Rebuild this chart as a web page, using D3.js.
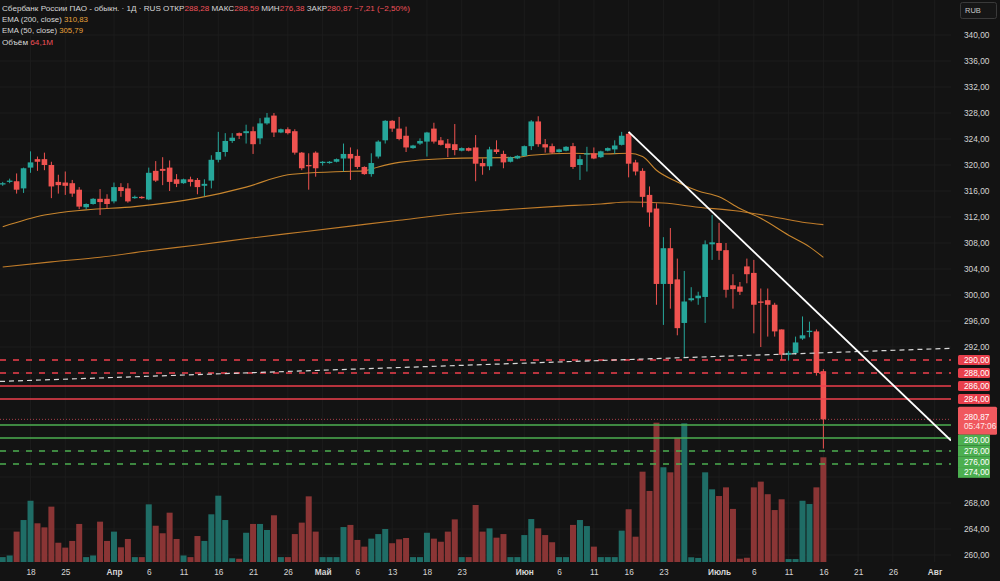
<!DOCTYPE html>
<html><head><meta charset="utf-8">
<script src="https://cdn.jsdelivr.net/npm/d3@7"></script>
<style>
html,body{margin:0;padding:0;background:#131313;}
svg{display:block;font-family:"Liberation Sans",Arial,sans-serif;}
</style></head><body>
<svg id="c" width="1000" height="581"></svg>
<script>
// ---------- DATA ----------
const opens=[317.0,317.4,317.5,316.4,319.6,320.9,320.9,320.0,317.4,317.3,317.2,316.2,313.5,314.0,314.8,314.8,314.4,316.6,316.4,314.9,315.1,314.7,319.1,319.4,319.6,317.8,317.2,317.8,317.7,316.8,317.6,320.8,322.0,323.7,324.9,324.9,325.2,324.1,326.4,327.6,325.0,325.5,325.2,321.9,320.0,321.9,320.3,320.3,320.5,321.0,321.7,321.4,319.7,318.6,321.3,323.8,326.8,325.6,324.5,322.6,323.3,323.6,325.6,323.8,323.3,323.2,322.2,322.6,322.7,320.3,319.8,322.4,321.7,320.5,321.0,321.4,322.9,326.7,323.2,322.9,322.0,322.2,322.9,320.0,321.6,321.8,321.2,322.2,322.4,323.1,324.8,320.4,319.1,315.4,313.3,301.7,307.2,302.4,295.7,299.2,299.5,299.7,307.8,308.0,306.9,301.5,301.3,304.4,303.4,299.0,299.2,298.5,294.7,290.8,291.1,293.3,294.3,294.4,288.28];
const highs=[317.4,317.9,318.7,319.6,322.1,321.3,321.9,320.5,318.5,319.0,317.7,316.6,314.1,314.9,316.3,315.5,317.3,317.2,317.2,315.3,315.2,319.6,320.6,321.2,320.7,318.6,317.9,318.2,318.0,317.8,321.5,325.1,324.9,324.9,325.0,326.2,325.9,327.2,328.0,328.0,325.6,325.8,325.5,322.0,321.8,322.1,320.6,320.6,321.0,323.3,322.7,322.4,319.8,321.8,323.8,326.9,326.9,327.4,325.9,323.1,324.1,325.1,326.5,324.3,324.0,326.3,322.7,322.7,324.6,321.0,322.8,323.8,322.2,321.3,321.5,323.0,326.9,327.5,324.0,323.3,322.5,322.9,323.4,321.5,322.8,322.7,322.2,322.7,323.8,325.1,325.1,320.8,319.5,316.7,314.1,308.9,310.3,305.6,303.7,301.2,300.5,308.4,312.3,311.1,308.0,303.2,302.0,305.6,305.4,301.0,301.0,298.8,294.7,291.4,293.6,296.7,295.9,294.7,288.59];
const lows=[316.8,317.2,315.6,315.7,318.8,319.1,319.2,314.9,315.6,315.4,315.1,313.2,313.2,313.9,312.3,313.3,314.1,315.1,314.2,314.8,314.8,314.6,317.4,316.9,316.0,316.6,317.1,316.7,315.5,315.2,316.4,320.4,321.3,323.4,324.0,323.3,321.7,323.2,326.2,324.3,324.9,324.7,321.6,319.2,316.2,318.2,319.9,320.2,320.4,319.0,317.7,319.4,318.5,318.2,321.0,323.3,325.1,323.8,322.0,322.5,323.1,321.3,323.3,323.0,321.2,321.5,322.1,322.1,317.5,318.5,319.2,321.7,319.5,320.4,320.9,321.3,322.3,322.8,321.9,321.7,321.9,322.1,319.4,317.7,319.0,320.9,321.1,322.1,321.7,323.0,318.1,318.4,313.5,310.5,298.5,295.4,297.9,293.8,290.3,299.0,298.5,295.7,305.4,305.4,299.6,297.9,300.0,301.8,294.1,292.0,293.6,293.6,290.0,289.9,290.8,293.1,293.5,287.6,276.38];
const closes=[317.2,317.6,316.2,319.5,320.4,320.5,320.0,316.7,316.9,316.8,315.6,313.6,314.0,314.8,314.3,314.0,316.6,316.0,314.4,315.1,314.9,318.8,317.6,319.1,317.4,317.1,317.8,317.4,316.6,317.1,320.8,322.0,323.7,324.2,324.5,325.2,323.2,326.4,327.3,325.0,325.5,324.9,321.9,319.5,319.8,319.5,320.5,320.5,320.9,321.7,321.0,319.7,318.6,320.3,323.6,326.8,325.6,324.0,322.7,323.0,323.7,325.0,323.6,323.1,322.6,322.3,322.6,322.2,320.2,319.8,322.4,322.0,320.4,321.2,321.4,322.9,326.7,323.2,322.7,321.9,322.4,322.8,319.7,320.9,321.8,321.0,322.1,322.6,323.0,324.5,320.2,319.0,315.1,312.7,301.7,307.2,301.7,294.9,299.0,299.5,299.9,307.8,308.1,306.8,300.8,300.9,300.5,303.2,298.5,298.8,298.5,294.4,290.8,291.1,292.7,293.8,294.5,288.0,280.87];
const volumes=[3,4,18.6,25.7,37.5,23.7,21.2,33.9,11.8,8.8,12.9,23.3,3,4,24.7,12.9,18.6,9.0,14.1,3,3,35.3,22.2,17.6,30.2,14.1,4,3,15.9,12.9,29.2,40.6,25.7,2.3,2,17.9,23.3,23.3,19.6,28.6,3,3,17.1,24.1,40.2,18.6,3,3,3,21.4,22.7,13.5,9.4,14.3,17.1,20.2,11.5,13.9,14.7,3,3,17.9,14.3,12.4,18.6,26.1,3,3,34.9,18.6,20.6,14.9,17.1,3,3,16.5,26.3,20.6,16.5,12.1,3,3,22.7,25.7,22.0,9.4,3,3,3,19.2,32.3,15.5,55.3,43.5,85.3,58.0,54.9,76.1,84.9,2.9,2.5,54.9,44.5,40.4,45.7,32.5,2,2.6,45.7,49.2,41.5,31.8,38.4,1.8,1.8,37.5,35.5,45.7,64.1];

const ema50Idx=[1,7,13,20,29,36,42,44,50,53,55,58,65,75,77,83,87,91,93,95,98,101,104,107,110,114,117,119];
const ema50Val=[310.5,312.3,313.1,313.6,314.9,316.6,318.5,318.7,319.0,319.1,319.7,320.4,321.0,321.2,321.5,321.8,321.7,321.8,321.3,319.2,317.4,316.0,315.1,313.3,311.8,309.2,307.4,305.79];
const ema200Idx=[1,8,15,22,29,37,44,51,58,66,73,80,87,91,96,101,106,111,116,119];
const ema200Val=[304.3,305.1,305.8,306.8,307.7,308.8,309.7,310.6,311.5,312.5,313.1,313.6,314.0,314.3,314.15,313.5,313.0,312.2,311.2,310.83];

const tickIdx=[5,10,17,22,27,32,37,42,47,52,57,62,67,76,81,86,91,96,104,109,114,119,124,129,135];
const tickText=["18","25","Апр","6","11","16","21","26","Май","6","13","18","23","Июн","6","11","16","23","Июль","6","11","16","21","26","Авг"];
const priceTicks=d3.range(260,341,4);

const resistLevels=[290,288,286,284];
const supportLevels=[280,278,276,274];
const trendDown=[[91,325.1],[137.35,277.6]];
const trendUp=[[0.612,286.7],[137.35,291.8]];
const lastPrice=280.87, lastTime="05:47:06";
const headerOHLC=[["ОТКР","288,28"],["МАКС","288,59"],["МИН","276,38"],["ЗАКР","280,87"]];

// ---------- LAYOUT ----------
const W=1000,H=581,plotR=951,plotB=562;
const UP='#26a69a',DN='#ef5350',VUP='#1f6d66',VDN='#8a3535';
const RED='#ef3f4c',GREEN='#4caf50',EMA='#c8862e';
const svg=d3.select('#c');
svg.append('rect').attr('width',W).attr('height',H).attr('fill','#131313');

const x=d3.scaleLinear().domain([0.612,137.35]).range([0,plotR]);
const y=d3.scaleLinear().domain([260,340]).range([555,35]);
const v=d3.scaleLinear().domain([0,64.1]).range([plotB,457.3]);

svg.append('defs').append('clipPath').attr('id','clip').append('rect')
  .attr('x',0).attr('y',0).attr('width',plotR).attr('height',plotB);
const g=svg.append('g').attr('clip-path','url(#clip)');

// grid
g.selectAll('line.vg').data(tickIdx).join('line').attr('class','vg')
  .attr('x1',d=>x(d)).attr('x2',d=>x(d)).attr('y1',0).attr('y2',plotB).attr('stroke','#1c1c1c');
g.selectAll('line.hg').data(priceTicks).join('line').attr('class','hg')
  .attr('x1',0).attr('x2',plotR).attr('y1',d=>y(d)).attr('y2',d=>y(d)).attr('stroke','#1c1c1c');

const bars=d3.range(opens.length).map(i=>({i:i+1,o:opens[i],h:highs[i],l:lows[i],c:closes[i],vol:volumes[i]}));

// volume
g.selectAll('rect.vol').data(bars).join('rect').attr('class','vol')
  .attr('x',d=>x(d.i)-3).attr('width',6)
  .attr('y',d=>v(d.vol)).attr('height',d=>plotB-v(d.vol))
  .attr('fill',d=>d.c>=d.o?VUP:VDN);

// EMAs
const line=d3.line().x(d=>x(d[0])).y(d=>y(d[1])).curve(d3.curveMonotoneX);
g.append('path').datum(ema200Idx.map((d,i)=>[d,ema200Val[i]])).attr('d',line)
  .attr('fill','none').attr('stroke','#c07c2a').attr('stroke-width',1.1);
g.append('path').datum(ema50Idx.map((d,i)=>[d,ema50Val[i]])).attr('d',line)
  .attr('fill','none').attr('stroke',EMA).attr('stroke-width',1.1);

// candles
const cg=g.selectAll('g.cdl').data(bars).join('g').attr('class','cdl');
cg.append('line').attr('x1',d=>x(d.i)).attr('x2',d=>x(d.i))
  .attr('y1',d=>y(d.h)).attr('y2',d=>y(d.l))
  .attr('stroke',d=>d.c>=d.o?UP:DN).attr('stroke-width',1);
cg.append('rect').attr('x',d=>x(d.i)-2.8).attr('width',5.6)
  .attr('y',d=>y(Math.max(d.o,d.c)))
  .attr('height',d=>Math.max(1,Math.abs(y(d.o)-y(d.c))))
  .attr('fill',d=>d.c>=d.o?UP:DN);

// level lines
const lvl=(arr,col,dashed)=>g.selectAll(null).data(arr).join('line')
  .attr('x1',0).attr('x2',plotR).attr('y1',d=>Math.round(y(d))).attr('y2',d=>Math.round(y(d)))
  .attr('stroke',col).attr('stroke-width',1.4)
  .attr('stroke-dasharray',(d,i)=>dashed(i)?'6,7':null);
lvl(resistLevels,RED,i=>i<2);
lvl(supportLevels,GREEN,i=>i>=2);
// last price dotted
g.append('line').attr('x1',0).attr('x2',plotR).attr('y1',y(lastPrice)).attr('y2',y(lastPrice))
  .attr('stroke','#a8404a').attr('stroke-dasharray','1,2');

// trend lines
const tl=d3.line().x(d=>x(d[0])).y(d=>y(d[1]));
g.append('path').datum(trendUp).attr('d',tl).attr('stroke','#d8d8d8').attr('stroke-width',1.2)
  .attr('stroke-dasharray','5,4').attr('fill','none');
g.append('path').datum(trendDown).attr('d',tl).attr('stroke','#ffffff').attr('stroke-width',1.8).attr('fill','none');

// ---------- AXES ----------
const fmt=d=>d3.format('.2f')(d).replace('.',',');
const cy=y(lastPrice)+1.3;
const boxTop=cy-14, boxBottom=cy+14+supportLevels.length*10.8;
const covered=p=>resistLevels.includes(p)||(y(p)>boxTop-5&&y(p)<boxBottom+5);
const ya=svg.append('g').attr('transform','translate(961,0)')
  .call(d3.axisRight(y).tickValues(priceTicks.filter(p=>!covered(p))).tickSize(0).tickPadding(3).tickFormat(fmt));
ya.select('.domain').remove();
ya.selectAll('text').attr('fill','#d6d6d6').attr('font-size','8.3px').attr('font-family','"Liberation Sans",Arial,sans-serif');

const xa=svg.append('g').attr('transform','translate(0,566)')
  .call(d3.axisBottom(x).tickValues(tickIdx).tickSize(0).tickPadding(3.6).tickFormat((d,i)=>tickText[i]));
xa.select('.domain').remove();
xa.selectAll('text').attr('fill','#d6d6d6').attr('font-size','8.3px').attr('font-family','"Liberation Sans",Arial,sans-serif')
  .attr('font-weight',(d,i)=>isNaN(+tickText[i])?'bold':'normal');

// price boxes
const box=(py,txt,col,w,h)=>{
  svg.append('rect').attr('x',958).attr('y',py-h/2).attr('width',w).attr('height',h).attr('rx',1.5).attr('fill',col);
  svg.append('text').attr('x',964).attr('y',py).attr('dy','0.35em').attr('fill','#ffffff')
    .attr('font-size','8.3px').text(txt);
};
resistLevels.forEach(p=>box(Math.round(y(p)),fmt(p),'#e8404c',32,10));
svg.append('rect').attr('x',958).attr('y',cy-14).attr('width',39).attr('height',28).attr('rx',1.5).attr('fill','#f0585e');
svg.append('text').attr('x',964).attr('y',cy-4).attr('dy','0.35em').attr('fill','#fff').attr('font-size','8.3px').text(fmt(lastPrice));
svg.append('text').attr('x',964).attr('y',cy+5).attr('dy','0.35em').attr('fill','#ffe8e8').attr('font-size','8.3px').text(lastTime);
let sy=cy+14;
supportLevels.forEach(p=>{
  const h=10.8;
  svg.append('rect').attr('x',958).attr('y',sy).attr('width',32).attr('height',h).attr('fill',GREEN);
  svg.append('text').attr('x',964).attr('y',sy+h/2).attr('dy','0.35em').attr('fill','#fff').attr('font-size','8.3px').text(fmt(p));
  sy+=h;
});

// RUB box
svg.append('rect').attr('x',960.5).attr('y',2.5).attr('width',36).attr('height',16).attr('rx',2)
  .attr('fill','#161616').attr('stroke','#3a3a3a');
svg.append('text').attr('x',965).attr('y',10.5).attr('dy','0.35em').attr('fill','#c8c8c8').attr('font-size','7.5px').text('RUB');

// ---------- HEADER ----------
const hdr=svg.append('g').attr('font-size','7.6px');
const fit=(t,len)=>t.attr('textLength',len).attr('lengthAdjust','spacingAndGlyphs');
const t1=hdr.append('text').attr('x',2).attr('y',11).attr('fill','#d8d8d8');
t1.append('tspan').text('Сбербанк России ПАО - обыкн. · 1Д · RUS ');
headerOHLC.forEach(([k,val])=>{
  t1.append('tspan').text(' '+k);
  t1.append('tspan').attr('fill','#f0525a').text(val+' ');
});
t1.append('tspan').attr('fill','#f0525a').text('−7,21 (−2,50%)');
fit(t1,408);
const l2=hdr.append('text').attr('x',2).attr('y',22).attr('fill','#d8d8d8');
l2.append('tspan').text('EMA (200, close) ');
l2.append('tspan').attr('fill','#e8a23a').text('310,83');
fit(l2,86);
const l3=hdr.append('text').attr('x',2).attr('y',33).attr('fill','#d8d8d8');
l3.append('tspan').text('EMA (50, close) ');
l3.append('tspan').attr('fill','#e8a23a').text('305,79');
fit(l3,81);
const l4=hdr.append('text').attr('x',2).attr('y',45).attr('fill','#d8d8d8');
l4.append('tspan').text('Объём ');
l4.append('tspan').attr('fill','#f0525a').text('64,1M');
fit(l4,51);
</script>
</body></html>
